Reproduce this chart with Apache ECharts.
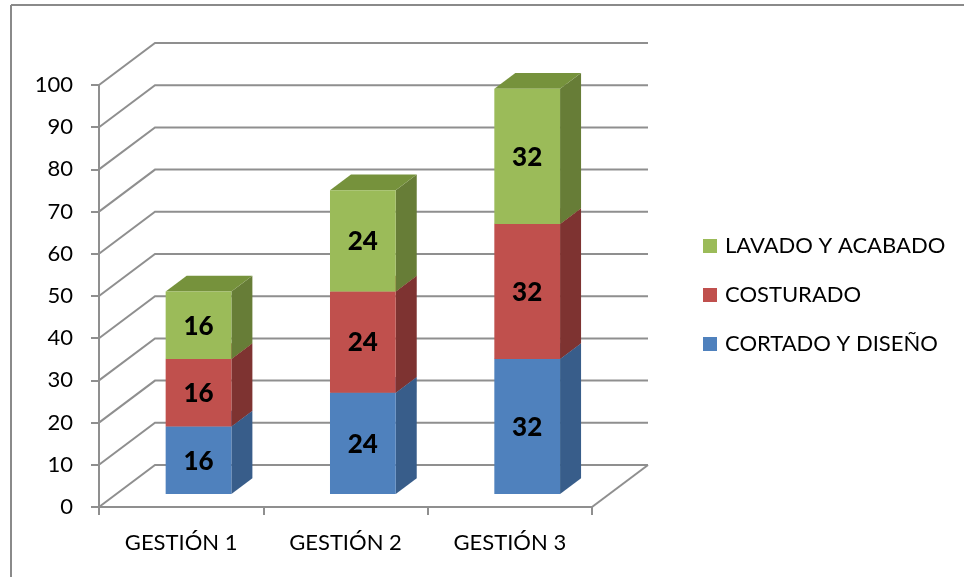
<!DOCTYPE html>
<html>
<head>
<meta charset="utf-8">
<title>Gestiones</title>
<script src="https://cdn.jsdelivr.net/npm/echarts@6/dist/echarts.min.js"></script>
<style>
  html, body { margin: 0; padding: 0; background: #ffffff; }
  #chart { width: 964px; height: 577px; }
</style>
</head>
<body>
<div id="chart"></div>
<script>
// Categories and stacked values
const categories = ['GESTIÓN 1', 'GESTIÓN 2', 'GESTIÓN 3'];
const cortado = [16, 24, 32];
const costurado = [16, 24, 32];
const lavado = [16, 24, 32];
const yTicks = [0, 10, 20, 30, 40, 50, 60, 70, 80, 90, 100];

const seriesNames = ['CORTADO Y DISEÑO', 'COSTURADO', 'LAVADO Y ACABADO'];
const seriesValues = [cortado, costurado, lavado];

// Face colours: front, side, top
const palette = [
  { front: '#4F81BD', side: '#385D8A', top: '#4471A6' },
  { front: '#C0504D', side: '#7E3331', top: '#A14340' },
  { front: '#9BBB59', side: '#677D37', top: '#76923C' }
];

// Oblique projection of the depth axis (pixels for full depth)
const DEPTH_X = 56;
const DEPTH_Y = 42;
// Bars occupy part of the depth and part of the category width
const BAR_DEPTH_START = 0.31;
const BAR_DEPTH_LEN = 0.375;
const BAR_WIDTH_RATIO = 0.4;

const GRID_COLOR = '#8f8f8f';
const FONT = 'Lato, "Open Sans", sans-serif';

// Back wall and floor gridlines
function renderWall(params, api) {
  const cs = params.coordSys;
  const v = api.value(0);
  const y = api.coord([0, v])[1];
  const x0 = cs.x;
  const x1 = cs.x + cs.width;
  const children = [{
    type: 'polyline',
    shape: { points: [[x0, y], [x0 + DEPTH_X, y - DEPTH_Y], [x1 + DEPTH_X, y - DEPTH_Y]] },
    style: { stroke: GRID_COLOR, lineWidth: 2, fill: null }
  }];
  if (v === 0) {
    children.push({
      type: 'line',
      shape: { x1: x1, y1: y, x2: x1 + DEPTH_X, y2: y - DEPTH_Y },
      style: { stroke: GRID_COLOR, lineWidth: 2 }
    });
  }
  return { type: 'group', children: children };
}

// One stacked segment drawn as a box: front, side and top faces
function makeBarRenderer(colors) {
  return function (params, api) {
    const cat = api.value(0);
    const base = api.value(1);
    const val = api.value(2);
    const bottom = api.coord([cat, base]);
    const topPt = api.coord([cat, base + val]);
    const w = api.size([1, 0])[0] * BAR_WIDTH_RATIO;
    const ox = DEPTH_X * BAR_DEPTH_START, oy = DEPTH_Y * BAR_DEPTH_START;
    const dx = DEPTH_X * BAR_DEPTH_LEN, dy = DEPTH_Y * BAR_DEPTH_LEN;
    const L = bottom[0] - w / 2 + ox;
    const R = bottom[0] + w / 2 + ox;
    const yb = bottom[1] - oy;
    const yt = topPt[1] - oy;
    return {
      type: 'group',
      children: [
        {
          type: 'polygon',
          shape: { points: [[R, yb], [R + dx, yb - dy], [R + dx, yt - dy], [R, yt]] },
          style: { fill: colors.side }
        },
        {
          type: 'polygon',
          shape: { points: [[L, yt], [R, yt], [R + dx, yt - dy], [L + dx, yt - dy]] },
          style: { fill: colors.top }
        },
        {
          type: 'rect',
          shape: { x: L, y: yt, width: R - L, height: yb - yt },
          style: { fill: colors.front }
        },
        {
          type: 'text',
          x: (L + R) / 2,
          y: (yt + yb) / 2 + 1,
          style: {
            text: String(val),
            fill: '#000000',
            font: '900 26px ' + FONT,
            align: 'center',
            verticalAlign: 'middle'
          }
        }
      ]
    };
  };
}

// Build stacked data [categoryIndex, base, value]
const barSeries = seriesValues.map(function (vals, si) {
  const data = vals.map(function (v, ci) {
    let base = 0;
    for (let k = 0; k < si; k++) base += seriesValues[k][ci];
    return [ci, base, v];
  });
  return {
    name: seriesNames[si],
    type: 'custom',
    renderItem: makeBarRenderer(palette[si]),
    encode: { x: 0, y: 1 },
    itemStyle: { color: palette[si].front },
    data: data,
    z: 3 + si
  };
});

const chart = echarts.init(document.getElementById('chart'), null, { renderer: 'canvas' });

chart.setOption({
  backgroundColor: '#ffffff',
  animation: false,
  textStyle: { fontFamily: FONT },
  grid: { left: 99, right: 372, top: 85, bottom: 70 },
  xAxis: {
    type: 'category',
    data: categories,
    axisLine: { show: true, lineStyle: { color: GRID_COLOR, width: 2 } },
    axisTick: { show: true, length: 8, lineStyle: { color: GRID_COLOR, width: 2 } },
    axisLabel: { color: '#000000', fontSize: 22, fontFamily: FONT, margin: 25, lineHeight: 22 },
    splitLine: { show: false }
  },
  yAxis: {
    type: 'value',
    min: 0,
    max: 100,
    interval: 10,
    axisLine: { show: true, lineStyle: { color: GRID_COLOR, width: 2 } },
    axisTick: { show: true, length: 8, lineStyle: { color: GRID_COLOR, width: 2 } },
    axisLabel: { color: '#000000', fontSize: 22, fontFamily: FONT, margin: 26 },
    splitLine: { show: false }
  },
  legend: {
    orient: 'vertical',
    left: 698,
    top: 230,
    itemWidth: 14,
    itemHeight: 14,
    itemGap: 27,
    icon: 'rect',
    data: ['LAVADO Y ACABADO', 'COSTURADO', 'CORTADO Y DISEÑO'],
    textStyle: { color: '#000000', fontSize: 22, fontFamily: FONT, lineHeight: 22, padding: [0, 0, 0, 3] }
  },
  graphic: [
    { type: 'line', shape: { x1: 11, y1: 5, x2: 964, y2: 5 }, style: { stroke: '#8a8a8a', lineWidth: 2 } },
    { type: 'line', shape: { x1: 11, y1: 5, x2: 11, y2: 577 }, style: { stroke: '#8a8a8a', lineWidth: 2 } }
  ],
  series: [
    {
      name: 'wall',
      type: 'custom',
      renderItem: renderWall,
      encode: { y: 0 },
      data: yTicks.map(function (v) { return [v]; }),
      silent: true,
      z: 1
    }
  ].concat(barSeries)
});
</script>
</body>
</html>
